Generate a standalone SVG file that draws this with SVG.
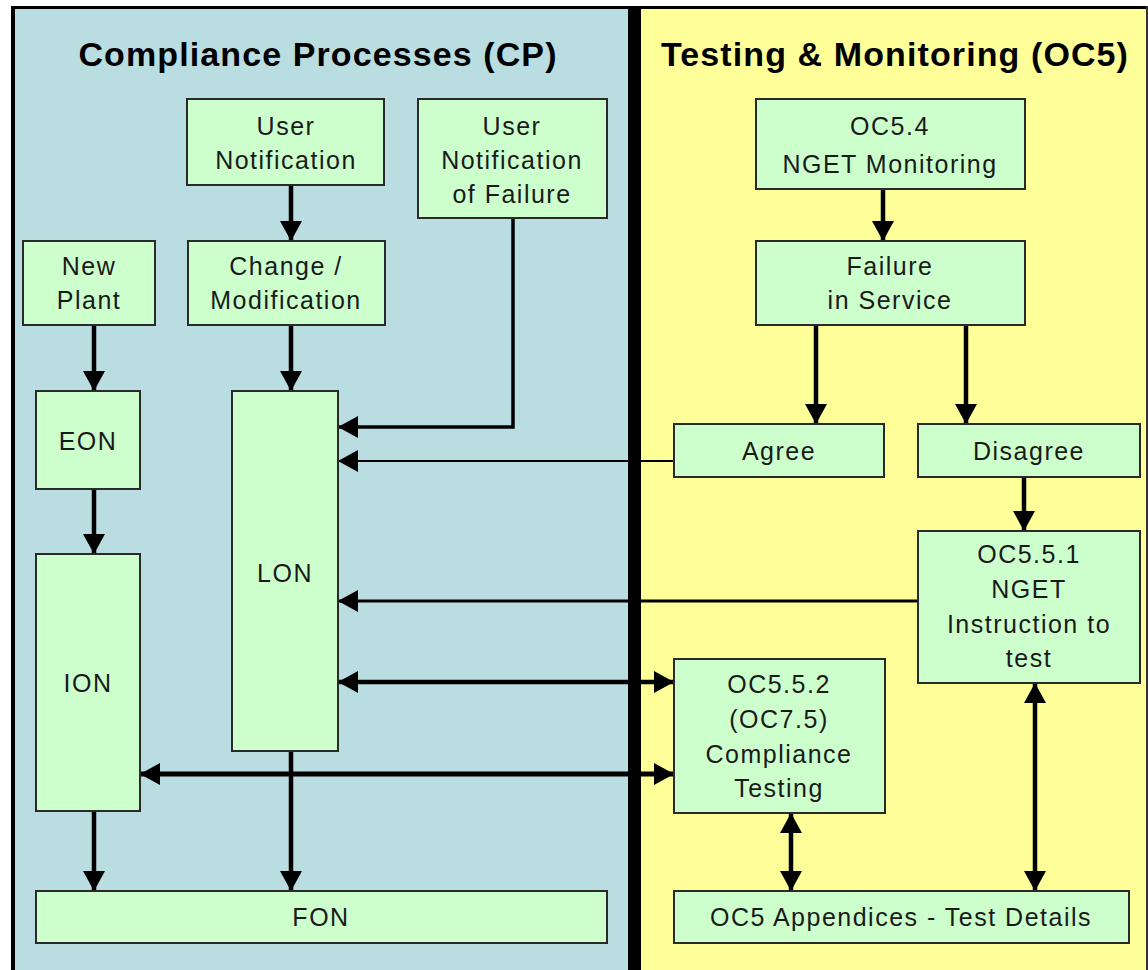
<svg xmlns="http://www.w3.org/2000/svg" width="1148" height="970" viewBox="0 0 1148 970">
<style>
.box{fill:#ccffcc;stroke:#2a2a2a;stroke-width:2}
.t{font-family:"Liberation Sans",Arial,sans-serif;font-size:25px;letter-spacing:1.5px;fill:#1a1a1a;text-anchor:middle}
.title{font-family:"Liberation Sans",Arial,sans-serif;font-size:34px;font-weight:bold;letter-spacing:1.1px;fill:#000;text-anchor:middle}
.c{fill:none;stroke:#000;stroke-width:4.5}
</style>
<defs>
<marker id="ah" markerUnits="userSpaceOnUse" markerWidth="22" markerHeight="22" refX="20" refY="11" orient="auto-start-reverse">
<path d="M0,0 L20,11 L0,22 z" fill="#000"/>
</marker>
</defs>
<rect x="0" y="0" width="1148" height="970" fill="#ffffff"/>
<rect x="15" y="9" width="613" height="961" fill="#badde2"/>
<rect x="641" y="9" width="507" height="961" fill="#ffff99"/>
<rect x="11" y="6" width="4" height="964" fill="#000"/>
<rect x="11" y="6" width="1137" height="3" fill="#000"/>
<rect x="628" y="6" width="13" height="964" fill="#000"/>
<rect x="1146" y="6" width="2" height="964" fill="#333"/>
<text class="title" x="318" y="66">Compliance Processes (CP)</text>
<text class="title" x="895" y="66">Testing &amp; Monitoring (OC5)</text>
<g id="connectors">
<line class="c" x1="291" y1="185" x2="291" y2="241" marker-end="url(#ah)"/>
<line class="c" x1="94" y1="325" x2="94" y2="391" marker-end="url(#ah)"/>
<line class="c" x1="291" y1="325" x2="291" y2="391" marker-end="url(#ah)"/>
<line class="c" x1="94" y1="489" x2="94" y2="554" marker-end="url(#ah)"/>
<path class="c" style="stroke-width:3.5" d="M513,218 V427 H338" marker-end="url(#ah)"/>
<line class="c" style="stroke-width:2" x1="674" y1="461" x2="338" y2="461" marker-end="url(#ah)"/>
<line class="c" style="stroke-width:3" x1="918" y1="601" x2="338" y2="601" marker-end="url(#ah)"/>
<line class="c" x1="338" y1="682" x2="674" y2="682" marker-start="url(#ah)" marker-end="url(#ah)"/>
<line class="c" style="stroke-width:5" x1="140" y1="774" x2="674" y2="774" marker-start="url(#ah)" marker-end="url(#ah)"/>
<line class="c" x1="94" y1="811" x2="94" y2="891" marker-end="url(#ah)"/>
<line class="c" x1="291" y1="751" x2="291" y2="891" marker-end="url(#ah)"/>
<line class="c" x1="883" y1="189" x2="883" y2="241" marker-end="url(#ah)"/>
<line class="c" x1="816" y1="325" x2="816" y2="424" marker-end="url(#ah)"/>
<line class="c" x1="966" y1="325" x2="966" y2="424" marker-end="url(#ah)"/>
<line class="c" x1="1024" y1="477" x2="1024" y2="531" marker-end="url(#ah)"/>
<line class="c" x1="791" y1="813" x2="791" y2="891" marker-start="url(#ah)" marker-end="url(#ah)"/>
<line class="c" x1="1035" y1="683" x2="1035" y2="891" marker-start="url(#ah)" marker-end="url(#ah)"/>
</g>
<g id="user-notification"><rect class="box" x="187" y="99" width="197" height="86"/><text class="t" x="286" y="135">User</text><text class="t" x="286" y="169">Notification</text></g>
<g id="user-notification-failure"><rect class="box" x="418" y="99" width="189" height="119"/><text class="t" x="512" y="135">User</text><text class="t" x="512" y="169">Notification</text><text class="t" x="512" y="203">of Failure</text></g>
<g id="new-plant"><rect class="box" x="23" y="241" width="132" height="84"/><text class="t" x="89" y="275">New</text><text class="t" x="89" y="309">Plant</text></g>
<g id="change"><rect class="box" x="188" y="241" width="197" height="84"/><text class="t" x="286" y="275">Change /</text><text class="t" x="286" y="309">Modification</text></g>
<g id="eon"><rect class="box" x="36" y="391" width="104" height="98"/><text class="t" x="88" y="450">EON</text></g>
<g id="ion"><rect class="box" x="36" y="554" width="104" height="257"/><text class="t" x="88" y="692">ION</text></g>
<g id="lon"><rect class="box" x="232" y="391" width="106" height="360"/><text class="t" x="285" y="582">LON</text></g>
<g id="fon"><rect class="box" x="36" y="891" width="571" height="52"/><text class="t" x="321" y="926">FON</text></g>
<g id="oc54"><rect class="box" x="756" y="99" width="269" height="90"/><text class="t" x="890" y="135">OC5.4</text><text class="t" x="890" y="173">NGET Monitoring</text></g>
<g id="failure"><rect class="box" x="756" y="241" width="269" height="84"/><text class="t" x="890" y="275">Failure</text><text class="t" x="890" y="309">in Service</text></g>
<g id="agree"><rect class="box" x="674" y="424" width="210" height="53"/><text class="t" x="779" y="460">Agree</text></g>
<g id="disagree"><rect class="box" x="918" y="424" width="222" height="53"/><text class="t" x="1029" y="460">Disagree</text></g>
<g id="oc551"><rect class="box" x="918" y="531" width="222" height="152"/><text class="t" x="1029" y="563">OC5.5.1</text><text class="t" x="1029" y="598">NGET</text><text class="t" x="1029" y="633">Instruction to</text><text class="t" x="1029" y="667">test</text></g>
<g id="oc552"><rect class="box" x="674" y="659" width="211" height="154"/><text class="t" x="779" y="693">OC5.5.2</text><text class="t" x="779" y="728">(OC7.5)</text><text class="t" x="779" y="763">Compliance</text><text class="t" x="779" y="797">Testing</text></g>
<g id="appendices"><rect class="box" x="674" y="891" width="455" height="52"/><text class="t" x="901" y="926">OC5 Appendices - Test Details</text></g>
</svg>
